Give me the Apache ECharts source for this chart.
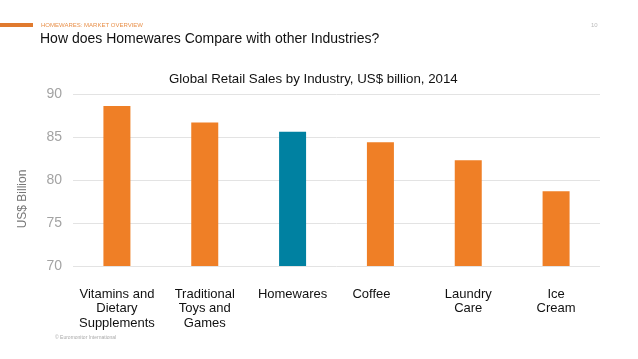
<!DOCTYPE html>
<html><head><meta charset="utf-8">
<script src="https://cdn.jsdelivr.net/npm/echarts@6/dist/echarts.min.js"></script>
<style>html,body{margin:0;padding:0;background:#fff}#c{width:638px;height:359px}</style>
</head><body><div id="c"></div>
<script>
const categories = ['Vitamins and\nDietary\nSupplements', 'Traditional\nToys and\nGames', 'Homewares', 'Coffee', 'Laundry\nCare', 'Ice\nCream'];
const values = [88.6, 86.7, 85.6, 84.4, 82.3, 78.7];
const highlight = 'Homewares';
const yTicks = [70, 75, 80, 85, 90];

const ORANGE = '#EF7F26', TEAL = '#0081A1';
const chart = echarts.init(document.getElementById('c'), null, {renderer: 'canvas'});
chart.setOption({
  animation: false,
  backgroundColor: '#fff',
  textStyle: {fontFamily: 'Liberation Sans, Arial, sans-serif'},
  title: {
    text: 'Global Retail Sales by Industry, US$ billion, 2014',
    left: 164, top: 68,
    textStyle: {fontSize: 13.3, fontWeight: 'normal', color: '#111', fontFamily: 'Liberation Sans'}
  },
  grid: {left: 73, right: 38, top: 94, bottom: 93, containLabel: false},
  xAxis: {
    type: 'category',
    data: categories.map(c => c === 'Coffee' ? {value: c, textStyle: {padding: [0, 18, 0, 0]}} : c),
    axisLine: {show: false}, axisTick: {show: false},
    axisLabel: {
      interval: 0, color: '#111', fontSize: 13, lineHeight: 14.5, margin: 21,
      fontFamily: 'Liberation Sans'
    }
  },
  yAxis: {
    type: 'value', min: yTicks[0], max: yTicks[yTicks.length - 1], interval: 5,
    axisLine: {show: false}, axisTick: {show: false},
    axisLabel: {color: '#a3a3a3', fontSize: 14, margin: 11, fontFamily: 'Liberation Sans'},
    splitLine: {lineStyle: {color: '#e3e3e3', width: 1}}
  },
  series: [{
    type: 'bar', barWidth: 27,
    data: values.map((v, i) => ({value: v, itemStyle: {color: categories[i] === highlight ? TEAL : ORANGE}}))
  }],
  graphic: [
    {type: 'rect', shape: {x: 0, y: 23, width: 33, height: 4}, style: {fill: '#E07A2E'}},
    {type: 'text', left: 41, top: 22, style: {text: 'HOMEWARES: MARKET OVERVIEW', fill: '#E8904A', fontSize: 6, fontFamily: 'Liberation Sans'}},
    {type: 'text', left: 591, top: 22, style: {text: '10', fill: '#bbb', fontSize: 6, fontFamily: 'Liberation Sans'}},
    {type: 'text', left: 40, top: 32, style: {text: 'How does Homewares Compare with other Industries?', fill: '#111', fontSize: 14, fontFamily: 'Liberation Sans'}},
    {type: 'text', x: 23, y: 199, rotation: Math.PI / 2,
      style: {text: 'US$ Billion', fill: '#777', fontSize: 12, fontFamily: 'Liberation Sans', align: 'center', verticalAlign: 'middle'}},
    {type: 'text', left: 55, top: 335, style: {text: '© Euromonitor International', fill: '#aaa', fontSize: 5, fontFamily: 'Liberation Sans'}}
  ]
});
</script></body></html>
